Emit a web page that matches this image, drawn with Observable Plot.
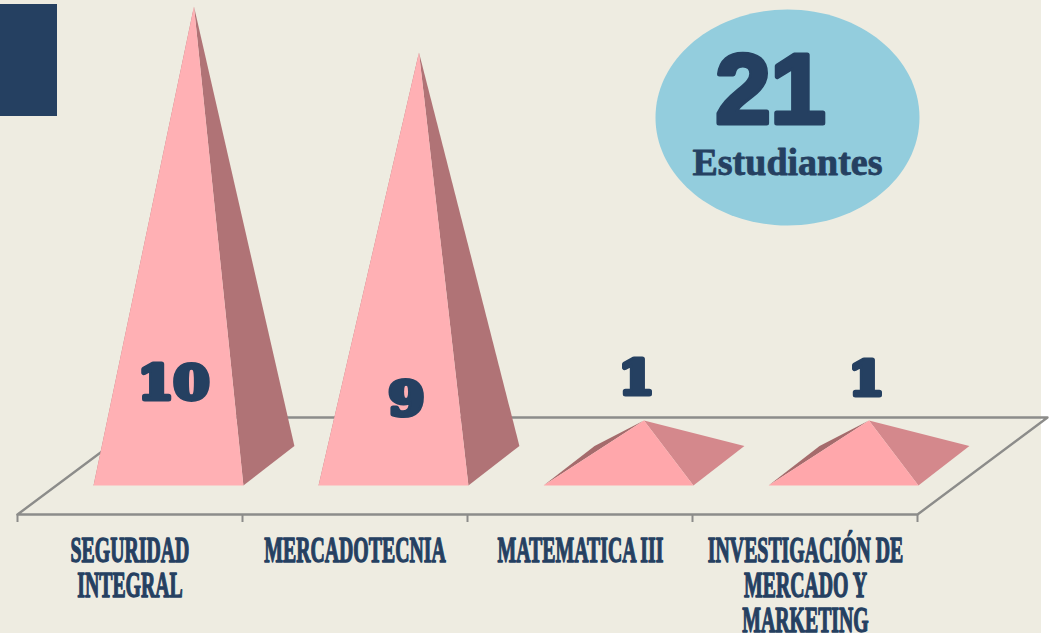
<!DOCTYPE html>
<html>
<head>
<meta charset="utf-8">
<script src="https://cdn.jsdelivr.net/npm/d3@7"></script>
<script src="https://cdn.jsdelivr.net/npm/@observablehq/plot@0.6"></script>
<style>
html,body{margin:0;padding:0;background:#fff;overflow:hidden}
svg{display:block}
</style>
</head>
<body>
<div id="chart"></div>
<script>
// ---- data
const categories = [
  ["SEGURIDAD", "INTEGRAL"],
  ["MERCADOTECNIA"],
  ["MATEMATICA III"],
  ["INVESTIGACIÓN DE", "MERCADO Y", "MARKETING"]
];
const values = [10, 9, 1, 1];
const totalValue = "21";
const totalLabel = "Estudiantes";

// ---- style
const navy = "#254061", bg = "#EEECE1", floorC = "#8C8C8A", sky = "#93CDDD";
const frontTall = "#FFB0B4", sideTall = "#B07376";
const frontLow = "#FFA7AB", sideLow = "#D4888C", leftLow = "#A56B6C";

// ---- chart units: one category = 225px, one student = 46px
const W = 1050, H = 633;
const ux = p => (p - 17) / 225;
const uy = p => (466 - p) / 46;

// pyramid geometry in chart units
const frontLeft = 0.338, frontRight = 1.004, depth = 0.2267;
const baseFront = uy(485), baseBack = uy(445.5);

const faces = values.flatMap((v, i) => {
  const fl = i + frontLeft, fr = i + frontRight;
  const ax = (fl + fr + depth) / 2;
  const low = v < 3;
  return [
    {color: low ? leftLow : sideTall, pts: [[fl, baseFront], [fl + depth, baseBack], [ax, v]]},
    {color: low ? sideLow : sideTall, pts: [[fr, baseFront], [fr + depth, baseBack], [ax, v]]},
    {color: low ? frontLow : frontTall, pts: [[fl, baseFront], [fr, baseFront], [ax, v]]}
  ];
});

// floor outline
const floorFront = uy(514), floorBack = uy(417), floorEnd = categories.length;
const floorSkew = 130 / 225;
const floorPts = [[0, floorFront], [floorSkew, floorBack], [floorEnd + floorSkew, floorBack], [floorEnd, floorFront], [0, floorFront]];
const tickIdx = d3.range(categories.length + 1);

// value labels
const labelSpots = [[ux(173), uy(384)], [ux(406), uy(400)], [ux(636), uy(379)], [ux(866), uy(380)]];
const valueLabels = values.map((v, i) => ({t: String(v), x: labelSpots[i][0], y: labelSpots[i][1]}));

// category labels: one row per line
const lineRows = [uy(550), uy(585), uy(620)];
const catCenters = [ux(129.5), ux(354.5), ux(580), ux(805)];
const catLines = categories.flatMap((lines, i) => lines.map((t, j) => ({t, x: catCenters[i], y: lineRows[j]})));

const ellipseSymbol = {
  draw(c) {
    const rx = 132, ry = 108, k = 0.5523;
    c.moveTo(rx, 0);
    c.bezierCurveTo(rx, k * ry, k * rx, ry, 0, ry);
    c.bezierCurveTo(-k * rx, ry, -rx, k * ry, -rx, 0);
    c.bezierCurveTo(-rx, -k * ry, -k * rx, -ry, 0, -ry);
    c.bezierCurveTo(k * rx, -ry, rx, -k * ry, rx, 0);
    c.closePath();
  }
};

const plot = Plot.plot({
  width: W, height: H,
  marginTop: 0, marginRight: 0, marginBottom: 0, marginLeft: 0,
  style: {background: "transparent"},
  x: {domain: [ux(0), ux(W)], range: [0, W], axis: null},
  y: {domain: [uy(H), uy(0)], range: [H, 0], axis: null},
  marks: [
    Plot.rect([0], {x1: ux(0), x2: ux(1041), y1: uy(0), y2: uy(H), fill: bg}),
    Plot.rect([0], {x1: ux(0), x2: ux(57), y1: uy(4), y2: uy(116), fill: navy}),
    Plot.line(floorPts, {x: d => d[0], y: d => d[1], stroke: floorC, strokeWidth: 2.4, curve: "linear"}),
    Plot.ruleX(tickIdx, {x: d => d, y1: uy(514), y2: uy(522), stroke: floorC, strokeWidth: 2}),
    ...faces.map(f => Plot.line(f.pts, {x: d => d[0], y: d => d[1], fill: f.color, stroke: "none"})),
    Plot.dot([0], {x: ux(787), y: uy(117), symbol: ellipseSymbol, fill: sky, stroke: "none", r: 10}),
    Plot.text(valueLabels, {x: "x", y: "y", text: "t", fill: navy, stroke: navy, strokeWidth: 5, strokeLinejoin: "round", className: "val",
      fontFamily: "DejaVu Serif", fontWeight: 700, fontSize: 46}),
    Plot.text(catLines, {x: "x", y: "y", text: "t", fill: navy, stroke: navy, strokeWidth: 1.4, className: "cat",
      fontFamily: "Liberation Serif", fontWeight: 700, fontSize: 36}),
    Plot.text([totalValue], {x: ux(770), y: uy(91), text: d => d, fill: navy, stroke: navy, strokeWidth: 5, strokeLinejoin: "round",
      fontFamily: "Liberation Sans", fontWeight: 700, fontSize: 99}),
    Plot.text([totalLabel], {x: ux(787), y: uy(162), text: d => d, fill: navy, stroke: navy, strokeWidth: 0.8,
      fontFamily: "Liberation Serif", fontWeight: 700, fontSize: 38})
  ]
});
document.getElementById("chart").append(plot);

// condense the category labels, widen the value labels
const refit = (sel, f) => d3.select(plot).selectAll(sel).each(function () {
  this.setAttribute("textLength", this.getComputedTextLength() * f);
  this.setAttribute("lengthAdjust", "spacingAndGlyphs");
});
refit(".cat text", 0.55);
refit(".val text", 1.12);
</script>
</body>
</html>
